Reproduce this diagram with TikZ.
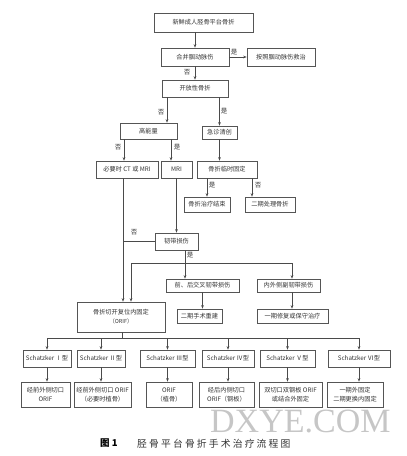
\documentclass[tikz,border=0pt]{standalone}
\usepackage{fontspec}
\setmainfont{Noto Sans CJK SC}
\newfontfamily\wmfont{Liberation Serif}
\newfontfamily\capfont[LetterSpace=22]{Noto Sans CJK SC}
\usetikzlibrary{arrows.meta}
\definecolor{linec}{HTML}{4A4A4A}
\definecolor{boxc}{HTML}{555555}
\definecolor{txtc}{HTML}{333333}
\begin{document}
\begin{tikzpicture}[x=1pt,y=-1pt,
  box/.style={draw=boxc, line width=0.6pt, fill=white, inner sep=0pt, align=center,
    font=\fontsize{6.2}{9}\selectfont, text=txtc},
  arr/.style={draw=linec, line width=0.6pt, -{Stealth[length=3.5pt,width=2.6pt]}},
  ln/.style={draw=linec, line width=0.6pt},
  lab/.style={font=\fontsize{6.5}{7}\selectfont, text=txtc, inner sep=0pt}]
\useasboundingbox (0,0) rectangle (407,456);
% boxes
\node[box, minimum width=99pt, minimum height=19pt] (n1) at (203.5,22.5) {新鲜成人胫骨平台骨折};
\node[box, minimum width=68pt, minimum height=18pt] (n2) at (195,57) {合并腘动脉伤};
\node[box, minimum width=68pt, minimum height=18pt] (n3) at (281,57) {按照腘动脉伤救治};
\node[box, minimum width=66pt, minimum height=17pt] (n4) at (195,88.5) {开放性骨折};
\node[box, minimum width=57pt, minimum height=16pt] (n5) at (148.5,131) {高能量};
\node[box, minimum width=35pt, minimum height=13pt] (n6) at (219.5,132.5) {急诊清创};
\node[box, minimum width=62pt, minimum height=17pt] (n7) at (127,169.5) {必要时 CT 或 MRI};
\node[box, minimum width=31pt, minimum height=17pt] (n8) at (176.5,169.5) {MRI};
\node[box, minimum width=60pt, minimum height=17pt] (n9) at (227,169.5) {骨折临时固定};
\node[box, minimum width=46pt, minimum height=15pt] (n10) at (207,204.5) {骨折治疗结束};
\node[box, minimum width=50pt, minimum height=15pt] (n11) at (270,204.5) {二期处理骨折};
\node[box, minimum width=43pt, minimum height=17pt] (n12) at (176.5,241.5) {韧带损伤};
\node[box, minimum width=73pt, minimum height=13pt] (n13) at (202.5,285.5) {前、后交叉韧带损伤};
\node[box, minimum width=63pt, minimum height=13pt] (n14) at (288.5,285.5) {内外侧副韧带损伤};
\node[box, minimum width=45pt, minimum height=14pt] (n15) at (199.5,316) {二期手术重建};
\node[box, minimum width=71pt, minimum height=14pt] (n16) at (292.5,316) {一期修复或保守治疗};
\node[box, minimum width=88pt, minimum height=30pt] (n17) at (121,317) {骨折切开复位内固定\\{\fontsize{5.5}{6}\selectfont （ORIF）}};
% Schatzker
\node[box, minimum width=48pt, minimum height=17pt] (s1) at (47,358.5) {Schatzker Ⅰ型};
\node[box, minimum width=48pt, minimum height=17pt] (s2) at (101,358.5) {Schatzker Ⅱ型};
\node[box, minimum width=55pt, minimum height=17pt] (s3) at (167.5,358.5) {Schatzker Ⅲ型};
\node[box, minimum width=52pt, minimum height=17pt] (s4) at (228,358.5) {Schatzker Ⅳ型};
\node[box, minimum width=55pt, minimum height=17pt] (s5) at (287.5,358.5) {Schatzker Ⅴ型};
\node[box, minimum width=62pt, minimum height=17pt] (s6) at (359,358.5) {Schatzker Ⅵ型};
\node[box, minimum width=49pt, minimum height=25pt] (b1) at (45.5,394.5) {经前外侧切口\\ORIF};
\node[box, minimum width=57pt, minimum height=25pt] (b2) at (102.5,394.5) {经前外侧切口 ORIF\\（必要时植骨）};
\node[box, minimum width=46pt, minimum height=25pt] (b3) at (169,394.5) {ORIF\\（植骨）};
\node[box, minimum width=55pt, minimum height=25pt] (b4) at (226.5,394.5) {经后内侧切口\\ORIF（钢板）};
\node[box, minimum width=63pt, minimum height=25pt] (b5) at (290.5,394.5) {双切口双钢板 ORIF\\或结合外固定};
\node[box, minimum width=56pt, minimum height=25pt] (b6) at (355,394.5) {一期外固定\\二期更换内固定};
% connectors
\draw[arr] (n1.south -| n2.north) -- (n2.north);
\draw[arr] (n2) -- (n3);
\node[lab] (l1) at (234,52) {是};
\draw[arr] (n2.south) -- (n4.north);
\node[lab] (l2) at (187,72) {否};
\draw[arr] ([xshift=-28pt]n4.south) -- ([xshift=-28pt]n4.south |- n5.north);
\draw[arr] (n4.south -| n6.north) -- (n6.north);
\node[lab] (l3) at (161,112) {否};
\node[lab] (l4) at (224,111) {是};
\draw[arr] ([xshift=-24.5pt]n5.south) -- ([xshift=-24.5pt]n5.south |- n7.north);
\draw[arr] ([xshift=22.5pt]n5.south) -- ([xshift=22.5pt]n5.south |- n8.north);
\node[lab] (l5) at (118,147) {否};
\node[lab] (l6) at (177,147) {是};
\draw[arr] (n6.south) -- (n6.south |- n9.north);
\draw[arr] (n10.north |- n9.south) -- (n10.north);
\draw[arr] ([xshift=25pt]n9.south) -- ([xshift=25pt]n9.south |- n11.north);
\node[lab] (l7) at (212,185) {是};
\node[lab] (l8) at (258,185) {否};
\draw[arr] (n8.south) -- (n12.north);
\coordinate (c7) at ([xshift=-4pt]n7.south);
\draw[arr] (c7) -- (c7 |- n17.north);
\draw[ln] (n12.west) -- (n12.west -| c7);
\node[lab] (l9) at (134,232) {否};
\coordinate (j1) at (185,263);
\coordinate (jl) at (131,263);
\coordinate (jr) at (292,263);
\draw[ln] (j1 |- n12.south) -- (j1);
\draw[ln] (jl) -- (jr);
\node[lab] (l10) at (190,255) {是};
\draw[arr] (jl) -- (jl |- n17.north);
\draw[arr] (j1) -- (j1 |- n13.north);
\draw[arr] (jr) -- (jr |- n14.north);
\draw[arr] (n13.south) -- (n13.south |- n15.north);
\draw[arr] (jr |- n14.south) -- (jr |- n16.north);
\coordinate (kb) at (122,338);
\draw[ln] (kb |- n17.south) -- (kb);
\draw[ln] (s1.north |- kb) -- (s6.north |- kb);
\foreach \s/\b in {s1/b1,s2/b2,s3/b3,s4/b4,s5/b5,s6/b6}{
  \draw[arr] (\s.north |- kb) -- (\s.north);
  \draw[arr] (\s.south) -- (\s.south |- \b.north);
}
% watermark and caption
\node[anchor=base west, inner sep=0pt, text=gray!45, font=\wmfont\fontsize{34}{34}\selectfont] (wm) at (210,432) {DXYE.COM};
\node[anchor=west, inner sep=0pt, text=black, font=\bfseries\fontsize{9.5}{10}\selectfont] (cap1) at (100,443.5) {图 1};
\node[anchor=west, inner sep=0pt, text=txtc, font=\capfont\fontsize{9.8}{10}\selectfont] (cap2) at (137,443.5) {胫骨平台骨折手术治疗流程图};
\end{tikzpicture}
\end{document}
